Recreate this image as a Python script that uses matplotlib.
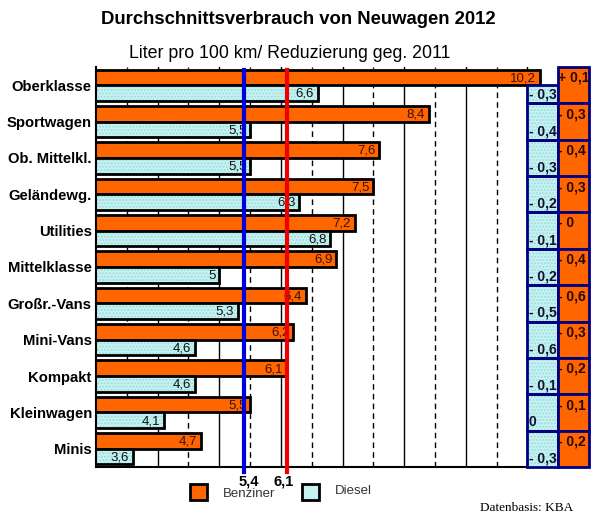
import numpy as np
import matplotlib
matplotlib.use("Agg")
from matplotlib import pyplot as plt
from matplotlib.patches import Rectangle
from matplotlib.transforms import blended_transform_factory

plt.rcParams['font.family'] = ['Liberation Sans', 'DejaVu Sans']

cats = ['Oberklasse', 'Sportwagen', 'Ob. Mittelkl.', 'Geländewg.', 'Utilities',
        'Mittelklasse', 'Großr.-Vans', 'Mini-Vans', 'Kompakt', 'Kleinwagen', 'Minis']
benzin = [10.2, 8.4, 7.6, 7.5, 7.2, 6.9, 6.4, 6.2, 6.1, 5.5, 4.7]
diesel = [6.6, 5.5, 5.5, 6.3, 6.8, 5.0, 5.3, 4.6, 4.6, 4.1, 3.6]
benzin_chg = ['+ 0,1', '- 0,3', '- 0,4', '- 0,3', '- 0', '- 0,4', '- 0,6', '- 0,3', '- 0,2', '- 0,1', '- 0,2']
diesel_chg = ['- 0,3', '- 0,4', '- 0,3', '- 0,2', '- 0,1', '- 0,2', '- 0,5', '- 0,6', '- 0,1', '0', '- 0,3']
avg_diesel = 5.4
avg_benzin = 6.1

ORANGE = '#ff6600'
CYAN = '#c6f2f2'
NAVY = '#000080'

def fmt(v):
    return f'{v:g}'.replace('.', ',')

fig = plt.figure(figsize=(6.04, 5.31), dpi=100)
ax = fig.add_axes([96/604, 1-467/531, 493/604, 400/531])

y = np.arange(len(cats))
h = 0.43

# grid: whole litres solid, half litres dashed
for gx in np.arange(3.5, 10.51, 0.5):
    ls = '-' if gx == int(gx) else (0, (4, 3))
    ax.axvline(gx, color='black', lw=1, ls=ls, zorder=0)

ax.barh(y + 0.07, benzin, height=h, align='edge', color=ORANGE,
        edgecolor='black', lw=2, zorder=2)
ax.barh(y + 0.5, diesel, height=h, align='edge', color=CYAN, hatch='.....',
        edgecolor='#9edcdc', lw=0, zorder=2)
ax.barh(y + 0.5, diesel, height=h, align='edge', fill=False,
        edgecolor='black', lw=2, zorder=3)

for i in range(len(cats)):
    ax.text(benzin[i] - 0.06, i + 0.07 + h/2 + 0.02, fmt(benzin[i]), ha='right', va='center',
            fontsize=9.5, color='#3b1000', zorder=5)
    ax.text(diesel[i] - 0.06, i + 0.5 + h/2 + 0.02, fmt(diesel[i]), ha='right', va='center',
            fontsize=9.5, color='#101010', zorder=5)

# change boxes on the right
for i in range(len(cats)):
    y0 = i + 0.5 if i == 0 else i
    ax.add_patch(Rectangle((10.0, y0), 0.5, i + 1 - y0, facecolor=CYAN, hatch='.....',
                           edgecolor='#9edcdc', lw=0, zorder=3, clip_on=False))
    ax.add_patch(Rectangle((10.0, y0), 0.5, i + 1 - y0, fill=False,
                           edgecolor=NAVY, lw=2, zorder=4, clip_on=False))
    ax.add_patch(Rectangle((10.5, i), 0.5, 1, facecolor=ORANGE,
                           edgecolor=NAVY, lw=2, zorder=4, clip_on=False))
    ax.text(10.02, i + 0.76, diesel_chg[i], ha='left', va='center', fontsize=10,
            fontweight='bold', color='#101030', zorder=6)
    ax.text(10.5, i + 0.3, benzin_chg[i], ha='left', va='center', fontsize=10,
            fontweight='bold', color='#2a0800', zorder=6)

# average lines
ax.axvline(avg_diesel, ymin=-0.013, ymax=0.993, color='#0000dd', lw=3, zorder=6, clip_on=False)
ax.axvline(avg_benzin, ymin=-0.013, ymax=0.993, color='#ee0000', lw=3, zorder=6, clip_on=False)
trans = blended_transform_factory(ax.transData, ax.transAxes)
ax.text(avg_diesel + 0.08, -0.035, fmt(avg_diesel), transform=trans, ha='center', va='center',
        fontsize=10.5, fontweight='bold')
ax.text(avg_benzin - 0.05, -0.035, fmt(avg_benzin), transform=trans, ha='center', va='center',
        fontsize=10.5, fontweight='bold')

ax.set_xlim(3, 11)
ax.set_ylim(len(cats), 0)
ax.set_yticks(y + 0.5)
ax.set_yticklabels(cats, fontsize=10.7, fontweight='bold')
ax.tick_params(axis='y', length=0, pad=3)
ax.set_xticks([])
for s in ['top', 'right']:
    ax.spines[s].set_visible(False)
ax.spines['left'].set_linewidth(1.5)
ax.spines['bottom'].set_linewidth(1.5)
ax.spines['bottom'].set_bounds(3, 10)

fig.text(298/604, 1-20/531, 'Durchschnittsverbrauch von Neuwagen 2012', ha='center', va='center',
         fontsize=13.3, fontweight='bold')
fig.text(290/604, 1-53/531, 'Liter pro 100 km/ Reduzierung geg. 2011', ha='center', va='center',
         fontsize=12.8)

# legend
fig.patches.append(Rectangle((190/604, 1-500/531), 17/604, 16/531, facecolor=ORANGE,
                             edgecolor='black', lw=2, transform=fig.transFigure))
fig.patches.append(Rectangle((302/604, 1-500/531), 17/604, 16/531, facecolor=CYAN,
                             edgecolor='black', lw=2, transform=fig.transFigure))
fig.text(223/604, 1-494/531, 'Benziner', ha='left', va='center', fontsize=9.5, color='#333333')
fig.text(335/604, 1-491/531, 'Diesel', ha='left', va='center', fontsize=9.5, color='#333333')
fig.text(480/604, 1-508/531, 'Datenbasis: KBA', ha='left', va='center', fontsize=9.5,
         family='Liberation Serif')

plt.savefig('out.png', dpi=100)
